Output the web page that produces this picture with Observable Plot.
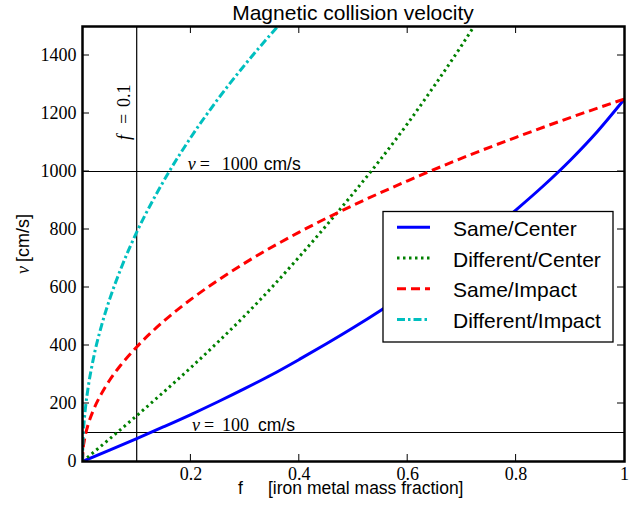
<!DOCTYPE html>
<html>
<head>
<meta charset="utf-8">
<script src="https://cdn.jsdelivr.net/npm/d3@7"></script>
<script src="https://cdn.jsdelivr.net/npm/@observablehq/plot@0.6"></script>
<style>
  html, body { margin: 0; padding: 0; background: #fff; }
  svg { display: block; }
</style>
</head>
<body>
<div id="chart"></div>
<script>
// ---- data ----
const sameCenterF = [0, 0.05, 0.1, 0.15, 0.2, 0.25, 0.3, 0.35, 0.4, 0.45, 0.5, 0.55, 0.6, 0.65, 0.7, 0.75, 0.8, 0.85, 0.9, 0.95, 1];
const sameCenterV = [0, 39, 79, 120, 162, 206, 252, 300, 352, 406, 462, 521, 583, 649, 718, 791, 868, 950, 1039, 1138, 1250];

const diffCenterF = [0, 0.05, 0.1, 0.15, 0.2, 0.25, 0.3, 0.35, 0.4, 0.45, 0.5, 0.55, 0.6, 0.65, 0.7, 0.72];
const diffCenterV = [0, 78, 158, 240, 324, 412, 504, 602, 706, 814, 926, 1042, 1166, 1298, 1436, 1494];

const sameImpactF = [0, 0.001, 0.003, 0.006, 0.01, 0.02, 0.035, 0.05, 0.07, 0.1, 0.15, 0.2, 0.25, 0.3, 0.4, 0.5, 0.6, 0.7, 0.8, 0.9, 1];
const sameImpactV = [0, 40, 68, 97, 125, 177, 234, 280, 331, 395, 484, 559, 625, 685, 791, 884, 968, 1046, 1118, 1186, 1250];

const diffImpactF = [0, 0.001, 0.003, 0.006, 0.01, 0.02, 0.035, 0.05, 0.07, 0.1, 0.13, 0.16, 0.2, 0.25, 0.3, 0.36];
const diffImpactV = [0, 79, 137, 194, 250, 354, 468, 559, 661, 791, 901, 1000, 1118, 1250, 1369, 1500];

const seriesNames = ["Same/Center", "Different/Center", "Same/Impact", "Different/Impact"];
const seriesF = [sameCenterF, diffCenterF, sameImpactF, diffImpactF];
const seriesV = [sameCenterV, diffCenterV, sameImpactV, diffImpactV];
const seriesColors = ["#0000ff", "#008000", "#ff0000", "#00bfbf"];
const seriesDash = [null, "2.5,3.5", "9,5", "8,3,2.5,3"];

const xTicks = [0.2, 0.4, 0.6, 0.8, 1];
const yTicks = [0, 200, 400, 600, 800, 1000, 1200, 1400];
const refV = [100, 1000];
const refF = [0.1];

const titleText = "Magnetic collision velocity";

// ---- table ----
const table = [];
seriesNames.forEach((name, k) => {
  seriesF[k].forEach((f, i) => table.push({series: name, f, v: seriesV[k][i]}));
});

const SERIF = "'Liberation Serif', 'DejaVu Serif', serif";
const SANS = "'Liberation Sans', Arial, sans-serif";

const lineMarks = seriesNames.map((name, k) =>
  Plot.line(table.filter(d => d.series === name), {
    x: "f", y: "v",
    stroke: seriesColors[k],
    strokeWidth: 3,
    strokeDasharray: seriesDash[k],
    strokeLinecap: "butt",
    curve: "monotone-x",
    clip: true
  })
);

const plot = Plot.plot({
  width: 642,
  height: 507,
  marginLeft: 82,
  marginRight: 18,
  marginTop: 26,
  marginBottom: 46,
  x: {domain: [0, 1]},
  y: {domain: [0, 1500]},
  style: {background: "white", color: "black"},
  marks: [
    Plot.ruleY(refV, {stroke: "black", strokeWidth: 1.2}),
    Plot.ruleX(refF, {stroke: "black", strokeWidth: 1.2}),
    ...lineMarks,
    Plot.axisX(xTicks, {anchor: "bottom", tickSize: 0, tickPadding: 6, fontSize: 18, fontFamily: SERIF,
      tickFormat: d => d === 1 ? "1" : d.toFixed(1), label: null}),
    Plot.axisY(yTicks, {anchor: "left", tickSize: 0, tickPadding: 6, fontSize: 18, fontFamily: SERIF,
      tickFormat: d => String(d), label: null}),
    Plot.frame({stroke: "black", strokeWidth: 2.5})
  ]
});

document.getElementById("chart").appendChild(plot);

// ---- inward ticks, annotations, labels, legend ----
const sx = plot.scale("x"), sy = plot.scale("y");
const [X0, X1] = sx.range;
const [Y0, Y1] = sy.range; // Y0 bottom, Y1 top
const TL = 7;
const svg = d3.select(plot);
const g = svg.append("g").attr("text-anchor", "start");

const tg = g.append("g").attr("stroke", "black").attr("stroke-width", 1);
xTicks.slice(0, 4).forEach(t => {
  const px = sx.apply(t);
  tg.append("line").attr("x1", px).attr("x2", px).attr("y1", Y0).attr("y2", Y0 - TL);
  tg.append("line").attr("x1", px).attr("x2", px).attr("y1", Y1).attr("y2", Y1 + TL);
});
yTicks.slice(1).forEach(t => {
  const py = sy.apply(t);
  tg.append("line").attr("x1", X0).attr("x2", X0 + TL).attr("y1", py).attr("y2", py);
  tg.append("line").attr("x1", X1).attr("x2", X1 - TL).attr("y1", py).attr("y2", py);
});

// title
g.append("text")
  .attr("x", (X0 + X1) / 2)
  .attr("y", 20)
  .attr("text-anchor", "middle")
  .attr("font-family", SANS)
  .attr("font-size", 21)
  .text(titleText);

// x label
const xl = g.append("text")
  .attr("y", 494)
  .attr("font-family", SANS)
  .attr("font-size", 17.5);
xl.append("tspan").attr("x", 238).text("f");
xl.append("tspan").attr("x", 268).text("[iron metal mass fraction]");

// y label
const yl = g.append("text")
  .attr("transform", "translate(29,274) rotate(-90)")
  .attr("font-size", 18);
yl.append("tspan").attr("x", 0).attr("font-family", SERIF).attr("font-style", "italic").text("v");
yl.append("tspan").attr("x", 12).attr("font-family", SANS).text("[cm/s]");

// horizontal reference annotations
function hAnno(fx, vv, numStr, numOff, unitOff) {
  const x0 = sx.apply(fx), y0 = sy.apply(vv) - 1.5;
  const t = g.append("text").attr("y", y0).attr("font-size", 18);
  t.append("tspan").attr("x", x0).attr("font-family", SERIF).attr("font-style", "italic").text("v");
  t.append("tspan").attr("x", x0 + 12).attr("font-family", SERIF).text("=");
  t.append("tspan").attr("x", x0 + numOff).attr("font-family", SERIF).text(numStr);
  t.append("tspan").attr("x", x0 + unitOff).attr("font-family", SANS).attr("font-size", 17.5).text("cm/s");
}
hAnno(0.195, refV[1], String(refV[1]), 34, 76);
hAnno(0.203, refV[0], String(refV[0]), 30, 66);

// vertical reference annotation
{
  const x0 = sx.apply(0.0886), y0 = sy.apply(1107);
  const t = g.append("text").attr("transform", `translate(${x0},${y0}) rotate(-90)`).attr("font-size", 18).attr("font-family", SERIF);
  t.append("tspan").attr("x", 0).attr("font-style", "italic").text("f");
  t.append("tspan").attr("x", 16).text("=");
  t.append("tspan").attr("x", 33).text(String(refF[0]));
}

// legend
const lg = g.append("g");
lg.append("rect")
  .attr("x", 383).attr("y", 211.5).attr("width", 230).attr("height", 130.5)
  .attr("fill", "white").attr("stroke", "black").attr("stroke-width", 1.3);
seriesNames.forEach((name, k) => {
  const yc = 227.3 + k * 30.7;
  lg.append("line")
    .attr("x1", 397).attr("x2", 430).attr("y1", yc).attr("y2", yc)
    .attr("stroke", seriesColors[k]).attr("stroke-width", 3)
    .attr("stroke-dasharray", seriesDash[k]).attr("stroke-linecap", "butt");
  lg.append("text")
    .attr("x", 453).attr("y", yc + 8.7)
    .attr("font-family", SANS).attr("font-size", 21)
    .text(name);
});
</script>
</body>
</html>
